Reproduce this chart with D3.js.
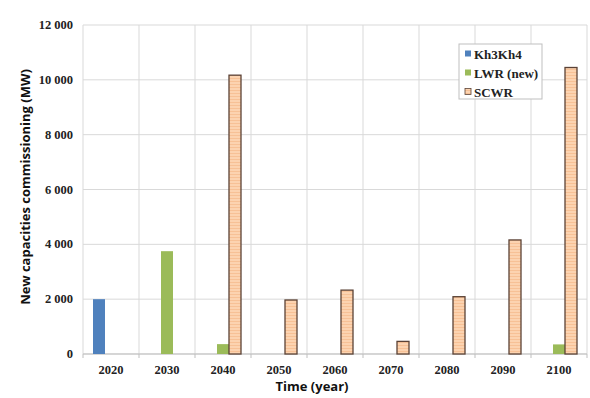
<!DOCTYPE html>
<html><head><meta charset="utf-8">
<script src="https://cdn.jsdelivr.net/npm/d3@7"></script>
<style>body{margin:0;background:#fff}</style>
</head><body>
<svg id="c" width="590" height="398"></svg>
<script>
const years = ["2020","2030","2040","2050","2060","2070","2080","2090","2100"];
const seriesNames = ["Kh3Kh4","LWR (new)","SCWR"];
const kh3kh4 = [2000,0,0,0,0,0,0,0,0];
const lwrNew = [0,3750,360,0,0,0,0,0,350];
const scwr = [0,0,10170,1970,2330,460,2090,4160,10450];
const yTicks = [0,2000,4000,6000,8000,10000,12000];
const colors = ["#4f81bd","#9bbb59","url(#hatch)"];

const svg = d3.select("#c");
const defs = svg.append("defs");
const pat = defs.append("pattern").attr("id","hatch").attr("patternUnits","userSpaceOnUse").attr("width",3).attr("height",3);
pat.append("rect").attr("width",3).attr("height",3).attr("fill","#fcd3b0");
pat.append("rect").attr("width",3).attr("height",1).attr("fill","#f7c196");

const L=83,R=587,T=25,B=354;
const x = d3.scaleBand().domain(years).range([L,R]).padding(0);
const y = d3.scaleLinear().domain([0,12000]).range([B,T]);
const bw = 12;

const g = svg.append("g");
g.selectAll(".hg").data(yTicks).join("line")
  .attr("x1",L).attr("x2",R).attr("y1",d=>y(d)).attr("y2",d=>y(d))
  .attr("stroke","#d9d9d9").attr("stroke-width",1);
const bounds = years.map(d=>x(d)).concat([R]);
g.selectAll(".vg").data(bounds).join("line")
  .attr("x1",d=>d).attr("x2",d=>d).attr("y1",T).attr("y2",B)
  .attr("stroke","#d9d9d9").attr("stroke-width",1);
g.selectAll(".tk").data(bounds).join("line")
  .attr("x1",d=>d).attr("x2",d=>d).attr("y1",B).attr("y2",B+4)
  .attr("stroke","#bfbfbf");
g.append("line").attr("x1",L).attr("x2",R).attr("y1",B).attr("y2",B).attr("stroke","#bfbfbf");

const data = [kh3kh4,lwrNew,scwr];
data.forEach((arr,si)=>{
  g.selectAll(".b"+si).data(arr.map((v,i)=>({v,yr:years[i]})).filter(d=>d.v>0)).join("rect")
    .attr("x",d=>x(d.yr)+x.bandwidth()/2-18+si*bw)
    .attr("y",d=>y(d.v)).attr("width",bw).attr("height",d=>B-y(d.v))
    .attr("fill",colors[si])
    .attr("stroke",si===2?"#5b4236":"none").attr("stroke-width",si===2?1.3:0);
});

const fmt = d=>d3.format(",")(d).replace(/,/g," ");
g.selectAll(".yl").data(yTicks).join("text")
  .attr("x",73).attr("y",d=>y(d)+4).attr("text-anchor","end")
  .attr("font-family","Liberation Serif").attr("font-weight","bold").attr("font-size",12.5)
  .attr("fill","#222").text(d=>fmt(d));
g.selectAll(".xl").data(years).join("text")
  .attr("x",d=>x(d)+x.bandwidth()/2).attr("y",374).attr("text-anchor","middle")
  .attr("font-family","Liberation Serif").attr("font-weight","bold").attr("font-size",12.5)
  .attr("fill","#222").text(d=>d);
svg.append("text").attr("x",312).attr("y",391).attr("text-anchor","middle")
  .attr("font-family","Open Sans, Liberation Sans").attr("font-weight","bold").attr("font-size",13)
  .attr("fill","#111").text("Time (year)");
svg.append("text").attr("transform","translate(30,187) rotate(-90)").attr("text-anchor","middle")
  .attr("font-family","Open Sans, Liberation Sans").attr("font-weight","bold").attr("font-size",13)
  .attr("fill","#111").text("New capacities commissioning (MW)");

const lg = svg.append("g");
lg.append("rect").attr("x",459).attr("y",44).attr("width",83).attr("height",55)
  .attr("fill","#fff").attr("stroke","#bfbfbf");
seriesNames.forEach((n,i)=>{
  const yy = 54+i*19;
  lg.append("rect").attr("x",465).attr("y",yy-3.5).attr("width",6).attr("height",6)
    .attr("fill",colors[i]).attr("stroke",i===2?"#5b4236":"none").attr("stroke-width",0.8);
  lg.append("text").attr("x",474).attr("y",yy+4.5)
    .attr("font-family","Liberation Serif").attr("font-weight","bold").attr("font-size",13)
    .attr("fill","#222").text(n);
});
</script>
</body></html>
